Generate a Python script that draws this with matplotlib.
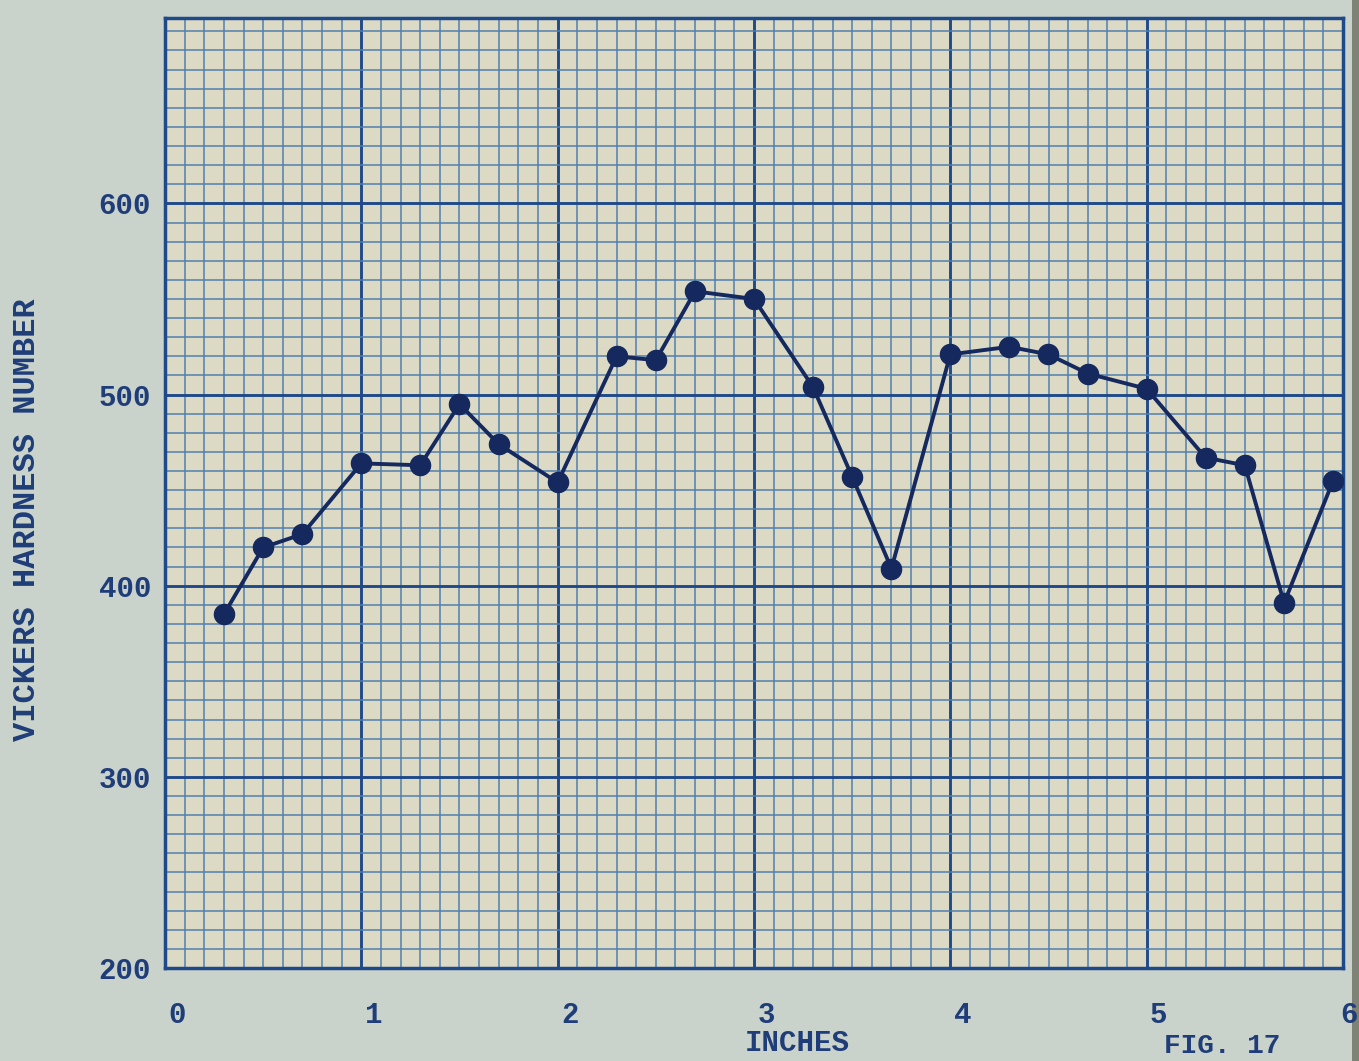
"""Vickers hardness traverse, redrawn on blue graph paper (Fig. 17)."""

import matplotlib

matplotlib.use("Agg")
import matplotlib.pyplot as plt
from matplotlib.patches import Rectangle
from matplotlib.ticker import MultipleLocator
from matplotlib.transforms import ScaledTranslation

# distance along the specimen, inches
inches = [0.3, 0.5, 0.7, 1.0, 1.3, 1.5, 1.7, 2.0, 2.3, 2.5, 2.7, 3.0,
          3.3, 3.5, 3.7, 4.0, 4.3, 4.5, 4.7, 5.0, 5.3, 5.5, 5.7, 5.95]
# Vickers hardness number at each station
hardness = [385, 420, 427, 464, 463, 495, 474, 454, 520, 518, 554, 550,
            504, 457, 409, 521, 525, 521, 511, 503, 467, 463, 391, 455]

x_ticks = [0, 1, 2, 3, 4, 5, 6]
x_labels = ["0", "1", "2", "3", "4", "5", "6"]
y_ticks = [200, 300, 400, 500, 600]
y_labels = ["200", "300", "400", "500", "600"]

PAPER = "#c9d2cb"
SHEET = "#dcdac5"
MINOR = "#507eae"
MAJOR = "#1f4a8a"
INK = "#15295f"
TYPE = "#1f3d78"
FONT = "Liberation Mono"

W, H = 1359, 1061
fig = plt.figure(figsize=(W / 100, H / 100), dpi=100, facecolor=PAPER)
ax = fig.add_axes([165 / W, (H - 968) / H, (1343 - 165) / W, (968 - 18) / H])
ax.set_facecolor(SHEET)

ax.set_xlim(0, 6)
ax.set_ylim(200, 697)
ax.xaxis.set_major_locator(MultipleLocator(1))
ax.xaxis.set_minor_locator(MultipleLocator(0.1))
ax.yaxis.set_major_locator(MultipleLocator(100))
ax.yaxis.set_minor_locator(MultipleLocator(10))
ax.grid(which="minor", color=MINOR, lw=1.2, alpha=0.9)
ax.grid(which="major", color=MAJOR, lw=2.1)
ax.set_axisbelow(True)
for side in ax.spines.values():
    side.set_color(MAJOR)
    side.set_linewidth(2.5)

ax.set_xticks(x_ticks, x_labels)
ax.set_yticks(y_ticks, y_labels)
ax.tick_params(which="both", length=0)
ax.tick_params(axis="x", pad=24)
ax.tick_params(axis="y", pad=10)
for i, lab in enumerate(ax.get_xticklabels()):
    dx = 12 if i < len(x_labels) - 1 else 6
    lab.set_transform(lab.get_transform()
                      + ScaledTranslation(dx / 100, 0, fig.dpi_scale_trans))
for lab in ax.get_xticklabels() + ax.get_yticklabels():
    lab.set_fontfamily(FONT)
    lab.set_fontweight("bold")
    lab.set_fontsize(21)
    lab.set_color(TYPE)

ax.plot(inches, hardness, color=INK, lw=2.8, marker="o", ms=14.5,
        mfc=INK, mec=INK, zorder=5)

fig.text(27 / W, 1 - 520 / H, "VICKERS HARDNESS NUMBER", rotation=90,
         ha="center", va="center", family=FONT, weight="bold",
         fontsize=23, color=TYPE)
fig.text(797 / W, 1 - 1043 / H, "INCHES", ha="center", va="center",
         family=FONT, weight="bold", fontsize=21, color=TYPE)
fig.text(1222 / W, 1 - 1059 / H, "FIG. 17", ha="center", va="bottom",
         family=FONT, weight="bold", fontsize=20, color=TYPE)

# dark page edge on the right of the scan
fig.patches.append(Rectangle((1352 / W, 0), 7 / W, 1, transform=fig.transFigure,
                             facecolor="#7f8376", edgecolor="none", zorder=-1))

fig.savefig("out.png", dpi=100, facecolor=PAPER)
plt.close(fig)
